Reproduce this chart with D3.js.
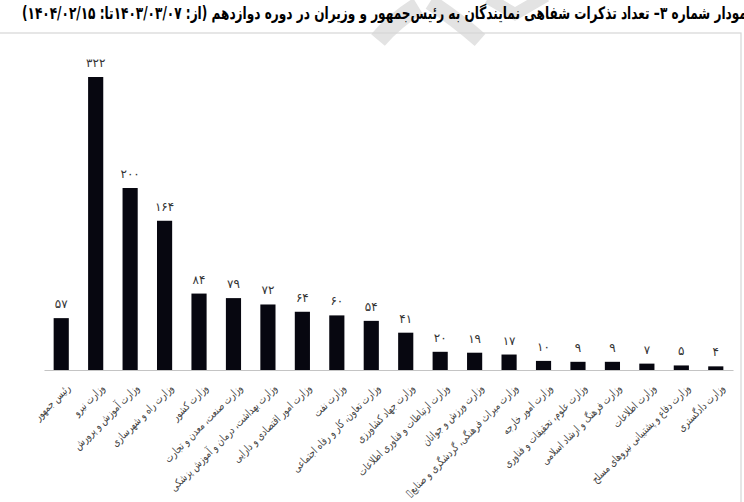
<!DOCTYPE html>
<html>
<head>
<meta charset="utf-8">
<script src="https://cdnjs.cloudflare.com/ajax/libs/d3/7.8.5/d3.min.js"></script>
<style>
  body { margin: 0; background: #fff; }
  svg { display: block; }
</style>
</head>
<body>
<div id="chart"></div>
<script>
// chart data
const categories = [
  'رئیس جمهور',
  'وزارت نیرو',
  'وزارت آموزش و پرورش',
  'وزارت راه و شهرسازی',
  'وزارت کشور',
  'وزارت صنعت، معدن و تجارت',
  'وزارت بهداشت، درمان و آموزش پزشکی',
  'وزارت امور اقتصادی و دارایی',
  'وزارت نفت',
  'وزارت تعاون، کار و رفاه اجتماعی',
  'وزارت جهاد کشاورزی',
  'وزارت ارتباطات و فناوری اطلاعات',
  'وزارت ورزش و جوانان',
  'وزارت میراث فرهنگی، گردشگری و صنایع\u25AF',
  'وزارت امور خارجه',
  'وزارت علوم، تحقیقات و فناوری',
  'وزارت فرهنگ و ارشاد اسلامی',
  'وزارت اطلاعات',
  'وزارت دفاع و پشتیبانی نیروهای مسلح',
  'وزارت دادگستری'
];
const counts = [57, 322, 200, 164, 84, 79, 72, 64, 60, 54, 41, 20, 19, 17, 10, 9, 9, 7, 5, 4];
const titleText = 'نمودار شماره ۳– تعداد تذکرات شفاهی نمایندگان به رئیس‌جمهور و وزیران در دوره دوازدهم (از: ۱۴۰۳/۰۳/۰۷تا: ۱۴۰۴/۰۲/۱۵)';

const W = 744, H = 502;
const faNum = n => String(n).replace(/\d/g, d => '۰۱۲۳۴۵۶۷۸۹'[d]);

const svg = d3.select('#chart').append('svg')
    .attr('width', W)
    .attr('height', H);

/* ------------------------- faint watermark strokes ------------------------ */
const wm = svg.append('g')
    .attr('fill', 'none')
    .attr('stroke', '#e3e3e3')
    .attr('stroke-linecap', 'butt');
wm.append('path').attr('d', 'M378,40 Q395,20 418,6').attr('stroke-width', 18);
wm.append('path').attr('d', 'M430,2 Q455,18 480,40').attr('stroke-width', 16);
wm.append('path').attr('d', 'M488,-2 L515,14 L546,-4').attr('stroke-width', 12);

/* --------------------------------- frame --------------------------------- */
svg.append('rect')
    .attr('x', -2)
    .attr('y', 33)
    .attr('width', W + 1 - 2)
    .attr('height', H)
    .attr('fill', 'none')
    .attr('stroke', '#d6d6d6')
    .attr('stroke-width', 1.2);

/* --------------------------------- title --------------------------------- */
svg.append('text')
    .attr('x', 752)
    .attr('y', 19)
    .attr('direction', 'rtl')
    .attr('text-anchor', 'start')
    .attr('textLength', 730)
    .attr('lengthAdjust', 'spacingAndGlyphs')
    .style('font-family', '"DejaVu Sans", sans-serif')
    .style('font-weight', 'bold')
    .style('font-size', '17px')
    .attr('fill', '#000')
    .text(titleText);

/* --------------------------------- scales -------------------------------- */
const x = d3.scaleBand()
    .domain(categories)
    .range([44, 733])
    .paddingInner(0.56)
    .paddingOuter(0.28);

const y = d3.scaleLinear()
    .domain([0, 322])
    .range([370, 77]);

const data = categories.map((c, i) => ({ name: c, value: counts[i] }));

// bars
svg.append('g')
    .selectAll('rect')
    .data(data)
    .enter()
    .append('rect')
    .attr('x', d => x(d.name))
    .attr('y', d => y(d.value))
    .attr('width', x.bandwidth())
    .attr('height', d => y(0) - y(d.value))
    .attr('fill', '#070710');

// value labels
svg.append('g')
    .selectAll('text')
    .data(data)
    .enter()
    .append('text')
    .attr('x', d => x(d.name) + x.bandwidth() / 2)
    .attr('y', d => y(d.value) - 10)
    .attr('text-anchor', 'middle')
    .style('font-family', '"DejaVu Sans", sans-serif')
    .style('font-size', '12px')
    .attr('fill', '#333')
    .text(d => faNum(d.value));

// x axis
const xAxis = svg.append('g')
    .attr('transform', `translate(0,${y(0)})`)
    .call(d3.axisBottom(x).tickSize(0).tickSizeOuter(0));

xAxis.select('.domain')
    .attr('stroke', '#c4c4c4')
    .attr('stroke-width', 1.2);

// long labels: squeeze along the text direction so they fit like the original
xAxis.selectAll('.tick text')
    .attr('direction', 'rtl')
    .attr('text-anchor', 'start')
    .attr('x', 0)
    .attr('y', 0)
    .attr('dy', '0.35em')
    .attr('transform', 'translate(7,16) rotate(-45) scale(0.78,1)')
    .style('font-family', '"DejaVu Sans", sans-serif')
    .style('font-size', '11px')
    .attr('fill', '#444');
</script>
</body>
</html>
